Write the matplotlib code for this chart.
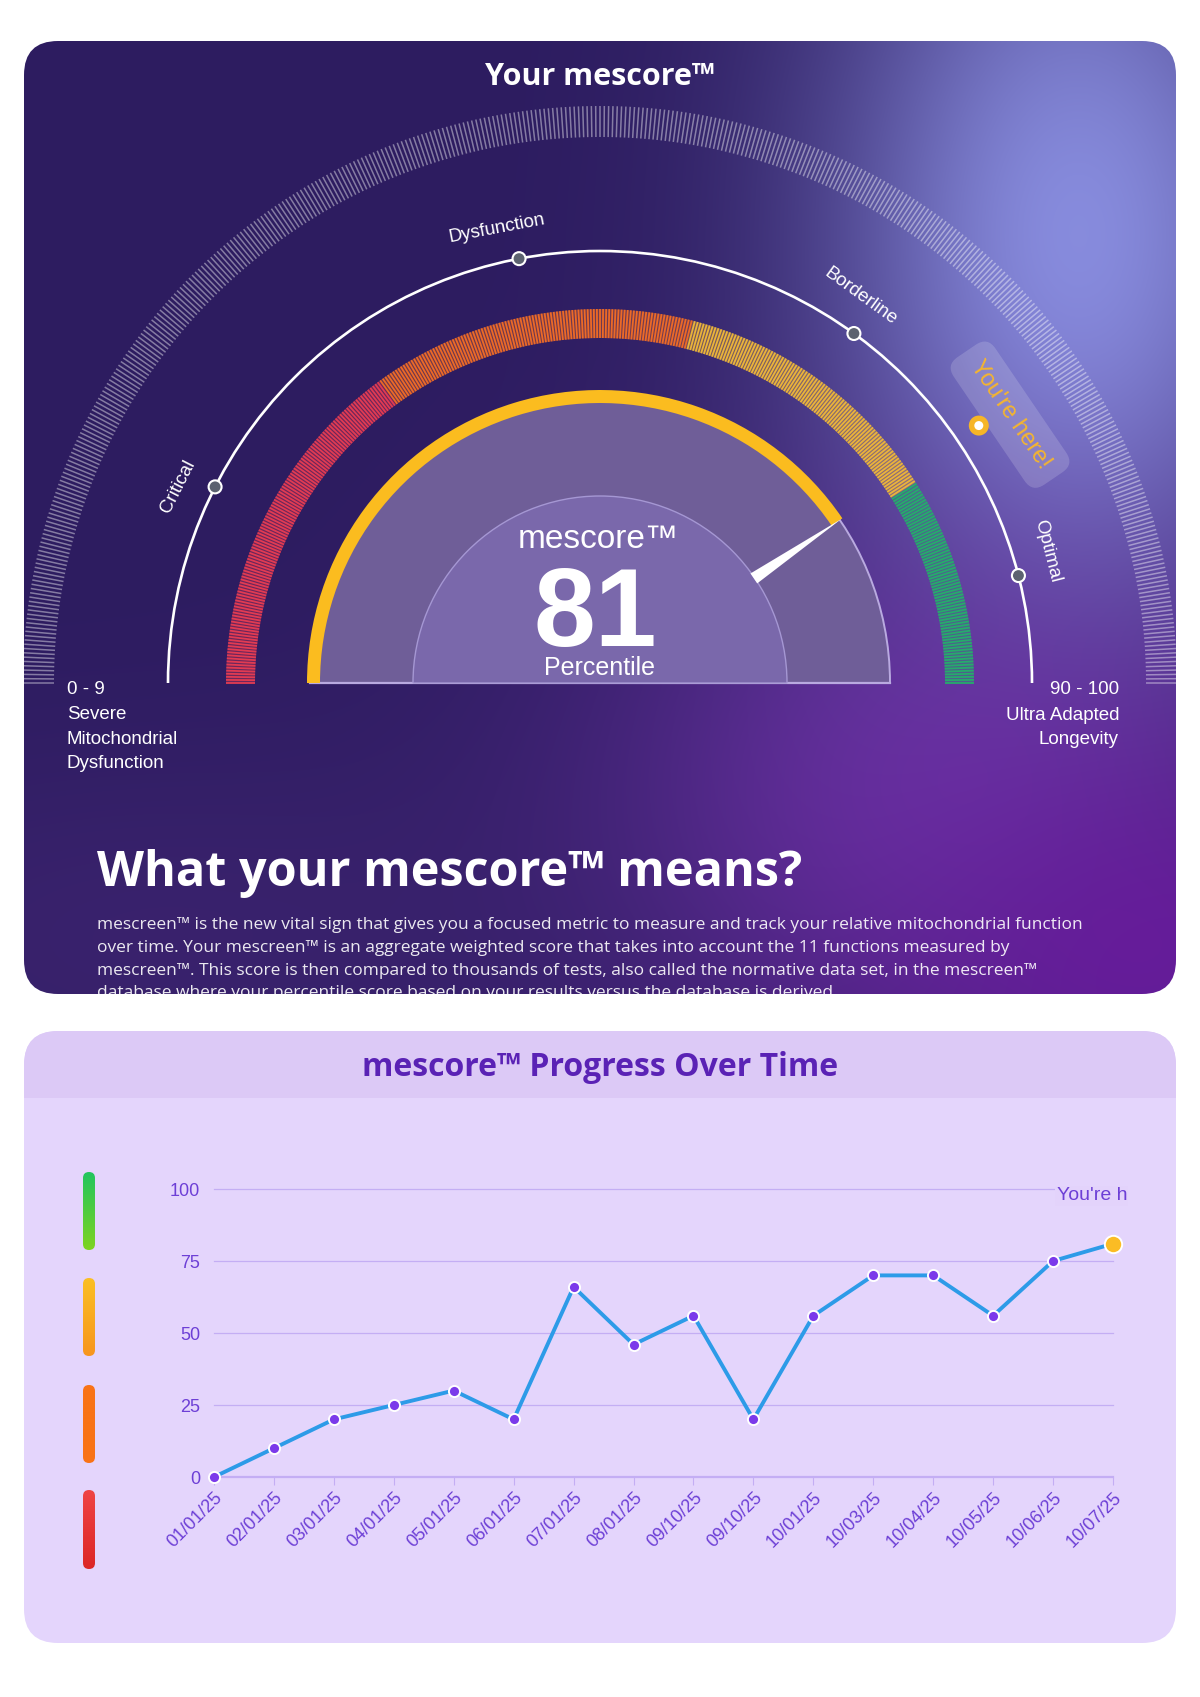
import numpy as np
import matplotlib

matplotlib.use("Agg")
import matplotlib.pyplot as plt
from matplotlib.colors import to_rgb
from matplotlib.patches import FancyBboxPatch, Wedge, Circle, Polygon, Rectangle, Arc
from matplotlib.collections import LineCollection

W, H = 1200, 1697

# ---- gauge data ----
SCORE = 81
ZONE_EDGES = [0, 30, 58, 82, 100]
ZONE_COLORS = ["#e23b52", "#ec6a27", "#ebb43a", "#26ab6c"]
STAGE_LABELS = ["Critical", "Dysfunction", "Borderline", "Optimal"]
STAGE_PCT = [15, 44, 70, 92]
LEFT_LABELS = ["0 - 9", "Severe", "Mitochondrial", "Dysfunction"]
RIGHT_LABELS = ["90 - 100", "Ultra Adapted", "Longevity"]

PARAGRAPH = [
    "mescreen\u2122 is the new vital sign that gives you a focused metric to measure and track your relative mitochondrial function",
    "over time. Your mescreen\u2122 is an aggregate weighted score that takes into account the 11 functions measured by",
    "mescreen\u2122. This score is then compared to thousands of tests, also called the normative data set, in the mescreen\u2122",
    "database where your percentile score based on your results versus the database is derived.",
]

# ---- progress chart data ----
DATES = ["01/01/25", "02/01/25", "03/01/25", "04/01/25", "05/01/25", "06/01/25",
         "07/01/25", "08/01/25", "09/10/25", "09/10/25", "10/01/25", "10/03/25",
         "10/04/25", "10/05/25", "10/06/25", "10/07/25"]
SCORES = [0, 10, 20, 25, 30, 20, 66, 46, 56, 20, 56, 70, 70, 56, 75, 81]
Y_TICKS = [0, 25, 50, 75, 100]
BAR_COLORS = [("#22c55e", "#7ed321"), ("#fbbf24", "#f7951d"),
              ("#f97316", "#f97316"), ("#ef4444", "#dc2626")]

SANS = ["Liberation Sans", "DejaVu Sans"]
GEO = ["Open Sans", "DejaVu Sans"]
PURPLE = "#6d3fd6"


def fy(y):
    # top-based pixel y -> axes y (bottom-based)
    return H - y


def polar(cx, cy, r, deg):
    t = np.radians(deg)
    return cx + r * np.cos(t), cy + r * np.sin(t)


def pct_to_deg(p):
    return 180 - p * 1.8


def card_gradient():
    xs = np.linspace(24, 1176, 300)
    ys = np.linspace(41, 994, 250)
    xx, yy = np.meshgrid(xs, ys)
    img = np.zeros(xx.shape + (3,))
    img[:] = np.array(to_rgb("#2d1c60"))
    blobs = [
        (1080, 240, 180, 300, 0.95, "#8c92e4"),
        (930, 800, 240, 200, 0.7, "#7a36b4"),
        (1160, 960, 200, 150, 0.85, "#6a1a9e"),
        (150, 940, 320, 140, 0.45, "#48297c"),
    ]
    for cx, cy, sx, sy, s, c in blobs:
        w = s * np.exp(-((xx - cx) ** 2 / (2 * sx ** 2) + (yy - cy) ** 2 / (2 * sy ** 2)))
        img = img * (1 - w[..., None]) + np.array(to_rgb(c)) * w[..., None]
    return img


def main():
    fig = plt.figure(figsize=(W / 100, H / 100), dpi=100)
    fig.patch.set_facecolor("white")
    bg = fig.add_axes([0, 0, 1, 1])
    bg.set_xlim(0, W)
    bg.set_ylim(0, H)
    bg.axis("off")

    # ---------------- top card ----------------
    card = FancyBboxPatch((24, fy(994)), 1152, 953,
                          boxstyle="round,pad=0,rounding_size=34",
                          fc="none", ec="none")
    bg.add_patch(card)
    im = bg.imshow(card_gradient(), extent=(24, 1176, fy(994), fy(41)),
                   origin="upper", interpolation="bilinear", aspect="auto", zorder=1)
    im.set_clip_path(card)

    bg.text(600, fy(77), "Your mescore\u2122", color="white", fontsize=22,
            fontweight="bold", family=GEO, ha="center", va="center", zorder=5)

    cx, cy = 600, fy(683)

    # outer hatched ring
    segs = []
    for a in np.linspace(0, 180, 421):
        segs.append([polar(cx, cy, 546, a), polar(cx, cy, 577, a)])
    bg.add_collection(LineCollection(segs, colors=(1, 1, 1, 0.42), linewidths=1.1, zorder=3))

    # white stage arc with dots and labels
    bg.add_patch(Arc((cx, cy), 864, 864, theta1=0, theta2=180, color="white", lw=1.9, zorder=4))
    for lab, p in zip(STAGE_LABELS, STAGE_PCT):
        d = pct_to_deg(p)
        x, y = polar(cx, cy, 432, d)
        bg.add_patch(Circle((x, y), 6.5, fc="#5c6270", ec="white", lw=1.5, zorder=5))
        lx, ly = polar(cx, cy, 466, d + 2)
        bg.text(lx, ly, lab, color="white", fontsize=13.5, family=SANS, rotation=d - 90,
                rotation_mode="anchor", ha="center", va="center", zorder=5)

    # coloured zone band (striped)
    segs, cols = [], []
    for a in np.linspace(0, 180, 381):
        p = (180 - a) / 1.8
        k = min(np.searchsorted(ZONE_EDGES, p, side="right") - 1, len(ZONE_COLORS) - 1)
        segs.append([polar(cx, cy, 345, a), polar(cx, cy, 374, a)])
        cols.append(ZONE_COLORS[k])
    for k, c in enumerate(ZONE_COLORS):
        bg.add_patch(Wedge((cx, cy), 374, pct_to_deg(ZONE_EDGES[k + 1]), pct_to_deg(ZONE_EDGES[k]),
                           width=29, fc=c, alpha=0.35, ec="none", zorder=3))
    bg.add_collection(LineCollection(segs, colors=cols, linewidths=1.3, zorder=4))

    # inner disc
    bg.add_patch(Wedge((cx, cy), 290, 0, 180, fc="#6f5e98", ec="none", zorder=4))
    bg.add_patch(Arc((cx, cy), 580, 580, theta1=0, theta2=180, color="#b9aae0", lw=1.4, zorder=5))
    bg.plot([cx - 290, cx + 290], [cy, cy], color="#b9aae0", lw=1.6, zorder=5)
    bg.add_patch(Wedge((cx, cy), 187, 0, 180, fc="#7a68ab", ec="#a597d3", lw=1.0, zorder=5))

    ang = pct_to_deg(SCORE)
    bg.add_patch(Wedge((cx, cy), 293, ang, 180, width=13, fc="#fbbc1f", ec="none", zorder=6))

    # needle
    t = np.radians(ang)
    u = np.array([np.cos(t), np.sin(t)])
    n = np.array([-u[1], u[0]])
    c0 = np.array([cx, cy])
    base = c0 + 186 * u
    needle = Polygon([base + 6 * n, base - 6 * n, c0 + 292 * u], closed=True,
                     fc="white", ec="none", zorder=7)
    bg.add_patch(needle)

    bg.text(598, fy(540), "mescore\u2122", color="white", fontsize=24, family=SANS,
            ha="center", va="center", zorder=8)
    bg.text(595, fy(646), str(SCORE), color="white", fontsize=80, fontweight="bold",
            family=SANS, ha="center", va="baseline", zorder=8)
    bg.text(600, fy(668), "Percentile", color="white", fontsize=18, family=SANS,
            ha="center", va="center", zorder=8)

    # "You're here!" marker
    mx, my = polar(cx, cy, 458, ang)
    bg.add_patch(Circle((mx, my), 10, fc="#f6b527", ec="none", zorder=8))
    bg.add_patch(Circle((mx, my), 4.5, fc="white", ec="none", zorder=9))
    tx, ty = polar(cx, cy, 490, ang - 1)
    bg.text(tx, ty, "You're here!", color="#f5b52e", fontsize=17, family=SANS,
            rotation=ang - 90, rotation_mode="anchor", ha="center", va="center", zorder=7,
            bbox=dict(boxstyle="round,pad=0.6,rounding_size=0.6", fc="white", alpha=0.16, ec="none"))

    for i, s in enumerate(LEFT_LABELS):
        bg.text(67, fy(690 + i * 24.5), s, color="white", fontsize=13.5, family=SANS,
                ha="left", va="center", zorder=5)
    for i, s in enumerate(RIGHT_LABELS):
        bg.text(1119, fy(690 + i * 25), s, color="white", fontsize=13.5, family=SANS,
                ha="right", va="center", zorder=5)

    bg.text(97, fy(874), "What your mescore\u2122 means?", color="white", fontsize=35,
            fontweight="bold", family=GEO, ha="left", va="center", zorder=5)
    for i, line in enumerate(PARAGRAPH):
        tp = bg.text(97, fy(925 + i * 22.8), line, color="white", alpha=0.9, fontsize=12.5,
                     family=GEO, ha="left", va="center", zorder=5)
        tp.set_clip_path(card)

    # ---------------- bottom card ----------------
    card2 = FancyBboxPatch((24, fy(1643)), 1152, 612,
                           boxstyle="round,pad=0,rounding_size=34",
                           fc="#e4d5fc", ec="none", zorder=1)
    bg.add_patch(card2)
    head = Rectangle((24, fy(1098)), 1152, 67, fc="#dcc9f6", ec="none", zorder=2)
    bg.add_patch(head)
    head.set_clip_path(card2)
    bg.text(600, fy(1068), "mescore\u2122 Progress Over Time", color="#5a22b5", fontsize=23,
            fontweight="bold", family=GEO, ha="center", va="center", zorder=5)

    bar_rows = [(1172, 1250), (1278, 1356), (1385, 1463), (1490, 1569)]
    for (top, bot), (c1, c2) in zip(bar_rows, BAR_COLORS):
        grad = np.linspace(0, 1, 64)[:, None, None]
        img = np.array(to_rgb(c1)) * (1 - grad) + np.array(to_rgb(c2)) * grad
        pill = FancyBboxPatch((83, fy(bot)), 12, bot - top,
                              boxstyle="round,pad=0,rounding_size=6", fc="none", ec="none")
        bg.add_patch(pill)
        gi = bg.imshow(img, extent=(83, 95, fy(bot), fy(top)), origin="upper",
                       aspect="auto", zorder=3)
        gi.set_clip_path(pill)

    # chart axes
    x0, x1, y0, y1 = 214, 1113, 1477, 1189
    ax = fig.add_axes([x0 / W, (H - y0) / H, (x1 - x0) / W, (y0 - y1) / H])
    ax.set_xlim(0, len(DATES) - 1)
    ax.set_ylim(0, 100)
    ax.patch.set_alpha(0)
    for sp in ax.spines.values():
        sp.set_visible(False)
    for yv in Y_TICKS:
        ax.axhline(yv, color="#c4aef4", lw=1.6 if yv == 0 else 0.9, zorder=1, clip_on=False)
    xs = np.arange(len(DATES))
    ax.plot(xs, SCORES, color="#2d9be8", lw=2.8, zorder=3, clip_on=False)
    ax.plot(xs[:-1], SCORES[:-1], ls="none", marker="o", ms=8, mfc="#7b3aea",
            mec="white", mew=1.4, zorder=4, clip_on=False)
    ax.plot(xs[-1:], SCORES[-1:], ls="none", marker="o", ms=12.5, mfc="#fbbc24",
            mec="white", mew=1.4, zorder=5, clip_on=False)

    ax.set_yticks(Y_TICKS)
    ax.set_yticklabels([str(v) for v in Y_TICKS], color=PURPLE, fontsize=13, family=SANS)
    ax.set_xticks(xs)
    ax.set_xticklabels(DATES, rotation=45, ha="right", rotation_mode="anchor",
                       color=PURPLE, fontsize=13, family=SANS)
    ax.tick_params(axis="y", length=0, pad=10)
    ax.tick_params(axis="x", length=5.5, width=0.8, color="#c4aef4", pad=3)

    # "You're here!" label, cut off at the right like the original
    yh = ax.text(1057, fy(1196), "You're here!", color=PURPLE, fontsize=14, family=SANS,
                 ha="left", va="center", transform=bg.transData, zorder=6,
                 bbox=dict(boxstyle="square,pad=0.1", fc="#e3d3fb", ec="none"))
    yh.set_clip_on(True)
    yh.set_clip_box(None)
    yh.set_clip_path(Rectangle((0, 0), 1128, H, transform=bg.transData))

    fig.savefig("out.png", dpi=100, facecolor="white")
    plt.close(fig)


if __name__ == "__main__":
    main()
